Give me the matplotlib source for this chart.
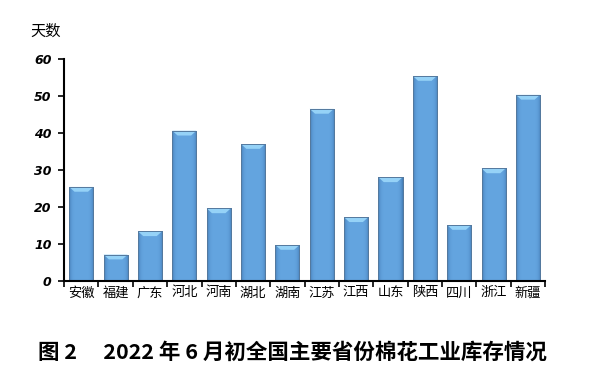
import numpy as np
import matplotlib
matplotlib.use("Agg")
import matplotlib.pyplot as plt
from matplotlib.patches import Polygon
from matplotlib.ticker import FixedLocator

plt.rcParams['font.family'] = ['Noto Sans CJK SC', 'DejaVu Sans']

provinces = ["安徽", "福建", "广东", "河北", "河南", "湖北", "湖南",
             "江苏", "江西", "山东", "陕西", "四川", "浙江", "新疆"]
days = [25.4, 7.1, 13.4, 40.6, 19.6, 37.0, 9.7,
        46.5, 17.2, 28.0, 55.4, 15.1, 30.4, 50.3]
y_ticks = [0, 10, 20, 30, 40, 50, 60]
y_label = "天数"
title = "图 2　 2022 年 6 月初全国主要省份棉花工业库存情况"

fig = plt.figure(figsize=(5.99, 3.78), dpi=100)
ax = fig.add_axes([0.107, 0.257, 0.803, 0.587])

x = np.arange(len(provinces))
width = 0.7
bars = ax.bar(x, days, width=width, color="#62A3DE", edgecolor="#55799E",
              linewidth=0.7, zorder=2)

# soft horizontal shading, darkening only near the bar edges
n = 64
grad = np.linspace(0, 1, n)
base = np.array([0x64, 0xA5, 0xE0]) / 255
dark = np.array([0x44, 0x7C, 0xB5]) / 255
shade_img = np.ones((1, n, 4))
for i in range(n):
    t = abs(grad[i] - 0.5) * 2
    k = t ** 6
    shade_img[0, i, :3] = base * (1 - k) + dark * k
for b in bars:
    x0, w, h = b.get_x(), b.get_width(), b.get_height()
    im = ax.imshow(shade_img, extent=(x0, x0 + w, 0, h), aspect="auto",
                   zorder=2.1, interpolation="bilinear")
    im.set_clip_path(b)
    # bevelled top cap
    cap = 1.3
    inset = w * 0.22
    poly = Polygon([(x0, h), (x0 + w, h), (x0 + w - inset, h - cap),
                    (x0 + inset, h - cap)], closed=True,
                   facecolor="#95D2F7", edgecolor="none", zorder=2.2)
    ax.add_patch(poly)
    ax.plot([x0, x0, x0 + w, x0 + w], [0, h, h, 0], color="#55799E",
            lw=0.7, zorder=2.3)

ax.set_xlim(-0.5, len(provinces) - 0.5)
ax.set_ylim(0, 60)
ax.set_yticks(y_ticks)
ax.set_yticklabels([str(v) for v in y_ticks], fontfamily="DejaVu Sans",
                   fontweight="bold", fontstyle="italic", fontsize=9)
ax.set_xticks(x)
ax.set_xticklabels(provinces, fontsize=9.5)
ax.tick_params(axis="x", which="major", length=0, pad=4)
ax.xaxis.set_minor_locator(FixedLocator(np.arange(-0.5, len(provinces), 1.0)))
ax.tick_params(axis="x", which="minor", length=4, width=1.2, direction="out")
ax.tick_params(axis="y", length=4, width=1.2, direction="out", pad=5)

for side in ("top", "right"):
    ax.spines[side].set_visible(False)
for side in ("left", "bottom"):
    ax.spines[side].set_linewidth(1.5)
    ax.spines[side].set_color("black")

fig.text(0.05, 0.918, y_label, fontsize=11, va="center", ha="left")
fig.text(0.488, 0.069, title, fontsize=15.5, fontweight="bold",
         va="center", ha="center")

fig.savefig("out.png", dpi=100)
